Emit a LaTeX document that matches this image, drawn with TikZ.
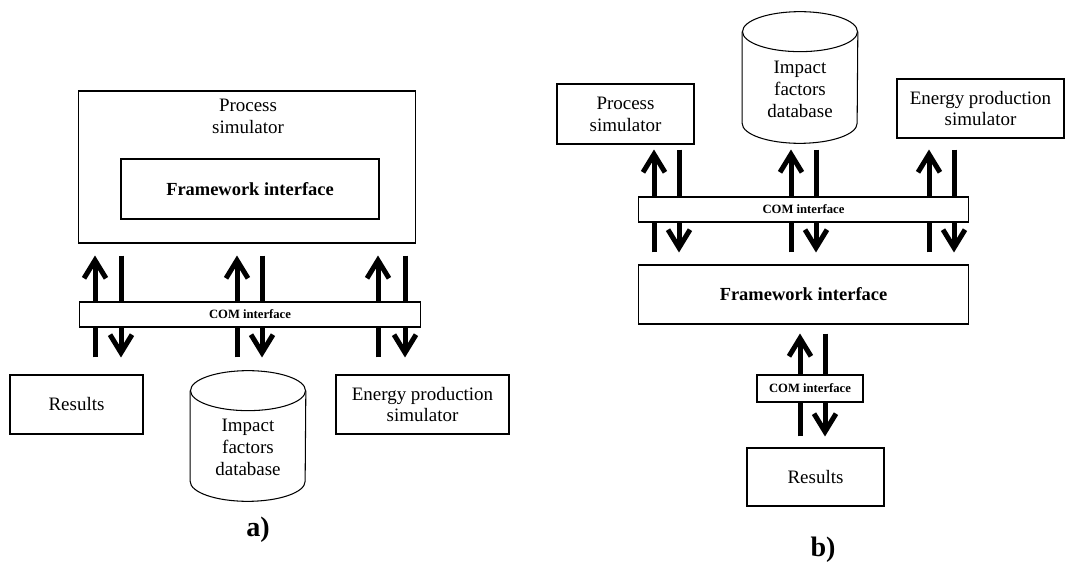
\documentclass[tikz,border=0pt]{standalone}
\usepackage{fontspec}
\setmainfont{Liberation Serif}
\usetikzlibrary{arrows.meta}

\tikzset{
  box/.style={draw, line width=0.6pt, inner sep=0pt},
  txt/.style={align=center, font=\fontsize{10.8}{12.5}\selectfont},
  boldtxt/.style={font=\fontsize{10.5}{12}\selectfont\bfseries},
  bar/.style={draw, line width=0.6pt, fill=white, inner sep=0pt, minimum height=0.5cm, font=\fontsize{7.2}{8}\selectfont\bfseries},
  db/.style={inner sep=0pt, minimum width=2.3cm},
  flow/.style={line width=0.1cm, -{Straight Barb[length=0.36cm,width=0.44cm]}},
  panellabel/.style={font=\fontsize{16}{18}\selectfont\bfseries}
}

\begin{document}
\begin{tikzpicture}[x=0.02cm, y=-0.02cm]
\useasboundingbox (0,0) rectangle (1080,567);

% a)
\node[box, minimum width=6.76cm, minimum height=3.04cm] (psA) at (247,167) {};
\node[txt] (psAtxt) at (248,116) {Process\\simulator};
\node[box, boldtxt, minimum width=5.16cm, minimum height=1.2cm] (fwA) at (250,189) {Framework interface};
\node[box, txt, minimum width=2.66cm, minimum height=1.18cm] (resA) at (76.5,404.5) {Results};
\node[db, minimum height=2.6cm] (dbA) at (248,436) {};
\node[txt] (dbAtxt) at (248,447) {Impact\\factors\\database};
\node[box, txt, minimum width=3.46cm, minimum height=1.18cm] (enA) at (422.5,404.5) {Energy production\\simulator};

\foreach \u/\d in {95/121, 237/262, 378/405} {
  \draw[flow, shorten <=0.34cm, shorten >=0.24cm] (resA.north -| \u,0) -- (psA.south -| \u,0);
  \draw[flow, shorten <=0.24cm, shorten >=0.34cm] (psA.south -| \d,0) -- (resA.north -| \d,0);
}
\node[bar, minimum width=6.84cm] (comA) at (250,314.5) {COM interface};
\node[panellabel] (capA) at (258,530) {a)};

% b)
\node[box, txt, minimum width=2.74cm, minimum height=1.2cm] (psB) at (625.5,114) {Process\\simulator};
\node[db, minimum height=2.62cm] (dbB) at (800,77.5) {};
\node[txt] (dbBtxt) at (800,89) {Impact\\factors\\database};
\node[box, txt, minimum width=3.34cm, minimum height=1.18cm] (enB) at (980.5,108.5) {Energy production\\simulator};
\node[box, boldtxt, minimum width=6.62cm, minimum height=1.18cm] (fwB) at (803.5,294.5) {Framework interface};
\node[box, txt, minimum width=2.74cm, minimum height=1.16cm] (resB) at (815.5,477) {Results};

\foreach \u/\d in {654/679, 791/816, 929/954} {
  \draw[flow, shorten <=0.24cm, shorten >=0.1cm] (fwB.north -| \u,0) -- (psB.south -| \u,0);
  \draw[flow, shorten <=0.1cm, shorten >=0.24cm] (psB.south -| \d,0) -- (fwB.north -| \d,0);
}
\draw[flow, shorten <=0.22cm, shorten >=0.18cm] (resB.north -| 800,0) -- (fwB.south -| 800,0);
\draw[flow, shorten <=0.18cm, shorten >=0.22cm] (fwB.south -| 825,0) -- (resB.north -| 825,0);
\node[bar, minimum width=6.62cm] (comB) at (803.5,209.5) {COM interface};
\node[bar, minimum width=2.12cm, minimum height=0.54cm] (comC) at (810,388.5) {COM interface};
\node[panellabel] (capB) at (823,550) {b)};

% database cylinders
\foreach \n in {dbA, dbB} {
  \draw[line width=0.6pt] ([yshift=-0.4cm]\n.north west) -- ([yshift=0.4cm]\n.south west)
    arc[start angle=180, end angle=360, x radius=1.15cm, y radius=0.4cm]
    -- ([yshift=-0.4cm]\n.north east);
  \draw[line width=0.6pt] ([yshift=-0.4cm]\n.north) ellipse[x radius=1.15cm, y radius=0.4cm];
}
\end{tikzpicture}
\end{document}
